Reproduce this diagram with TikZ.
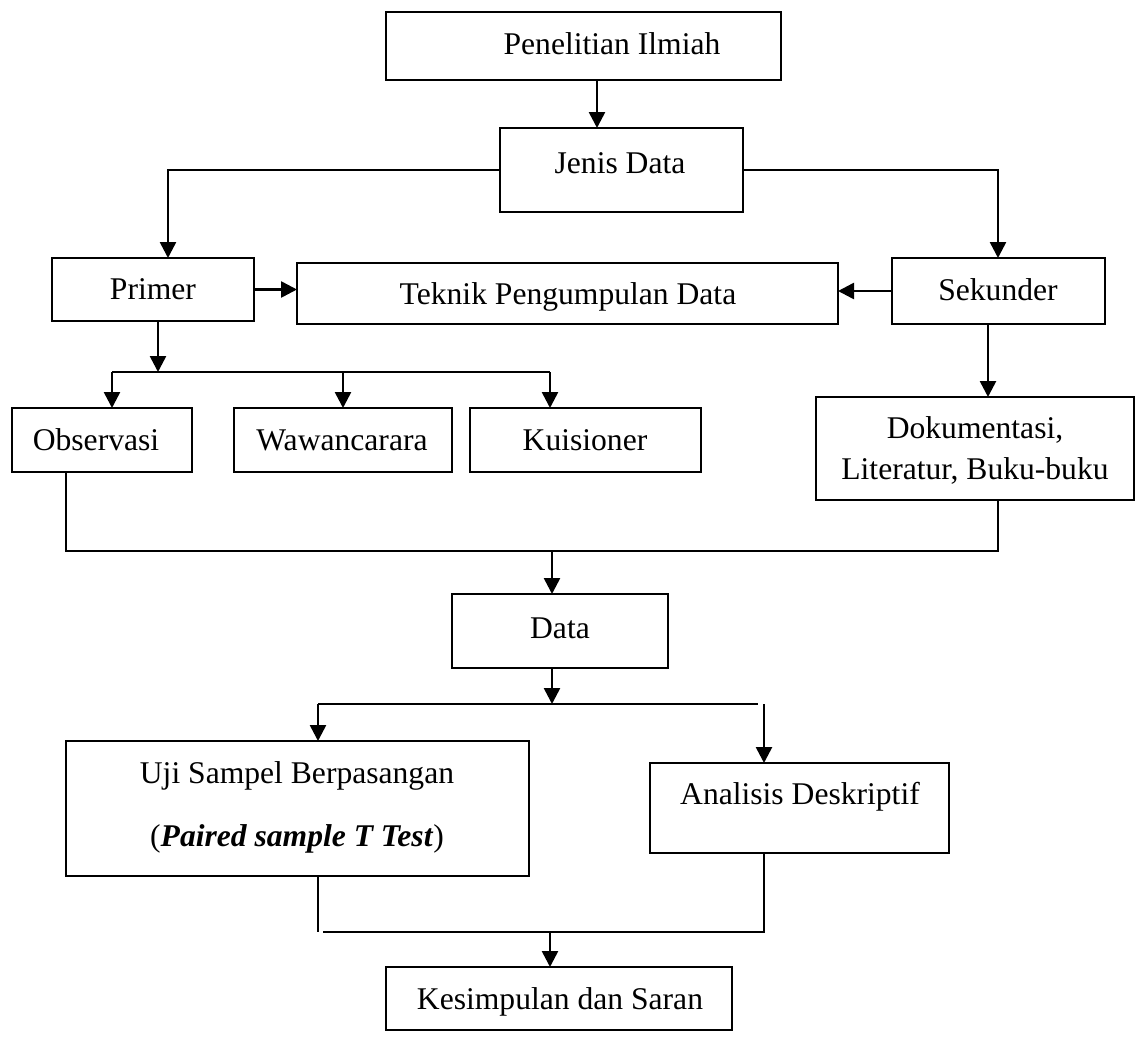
\documentclass[tikz,border=0pt]{standalone}
\usepackage{fontspec}
\setmainfont{Liberation Serif}
\usetikzlibrary{arrows.meta}
\begin{document}
\begin{tikzpicture}[x=1pt,y=-1pt,
  box/.style={draw, line width=2.4pt, inner sep=0pt, outer sep=0pt},
  txt/.style={anchor=base, inner sep=0pt, font=\fontsize{31.6}{38}\selectfont},
  conn/.style={line width=2.4pt},
  arr/.style={line width=2.6pt, -{Triangle[length=16pt,width=16pt]}}]
\useasboundingbox (0,0) rectangle (1137,1036);
% boxes: name, x1,y1,x2,y2
\newcommand\mkbox[5]{\node[box, minimum width={#4-#2}, minimum height={#5-#3}] (#1) at ({(#2+#4)/2},{(#3+#5)/2}) {};}
\mkbox{pen}{386}{12}{781}{80}
\mkbox{jenis}{500}{128}{743}{212}
\mkbox{primer}{52}{258}{254}{321}
\mkbox{teknik}{297}{263}{838}{324}
\mkbox{sekunder}{892}{258}{1105}{324}
\mkbox{obs}{12}{408}{192}{472}
\mkbox{waw}{234}{408}{452}{472}
\mkbox{kuis}{470}{408}{701}{472}
\mkbox{dok}{816}{397}{1134}{500}
\mkbox{data}{452}{594}{668}{668}
\mkbox{uji}{66}{741}{529}{876}
\mkbox{anal}{650}{763}{949}{853}
\mkbox{kes}{386}{967}{732}{1030}
% texts
\node[txt] (tpen) at (612,54) {Penelitian Ilmiah};
\node[txt] (tjenis) at (620,173) {Jenis Data};
\node[txt] (tprimer) at (153,299) {Primer};
\node[txt] (tteknik) at (568,304) {Teknik Pengumpulan Data};
\node[txt] (tsekunder) at (998,300) {Sekunder};
\node[txt] (tobs) at (96,450) {Observasi};
\node[txt] (twaw) at (342,450) {Wawancarara};
\node[txt] (tkuis) at (585,450) {Kuisioner};
\node[txt] (tdok1) at (975,438) {Dokumentasi,};
\node[txt] (tdok2) at (975,479) {Literatur, Buku-buku};
\node[txt] (tdata) at (560,638) {Data};
\node[txt] (tuji1) at (297,783) {Uji Sampel Berpasangan};
\node[txt] (tuji2) at (297,846) {(\textbf{\textit{Paired sample T Test}})};
\node[txt] (tanal) at (800,804) {Analisis Deskriptif};
\node[txt] (tkes) at (560,1009) {Kesimpulan dan Saran};
% junction coordinates
\coordinate (jl) at (168,170);
\coordinate (jr) at (998,170);
\coordinate (pj) at (158,372);
\coordinate (pl) at (112,372);
\coordinate (pr) at (550,372);
\coordinate (mob) at (66,551);
\coordinate (mdok) at (998,551);
\coordinate (mdata) at (552,551);
\coordinate (dj) at (552,704);
\coordinate (dl) at (318,704);
\coordinate (dr) at (758,704);
\coordinate (ar) at (764,704);
\coordinate (uj) at (318,932);
\coordinate (ul) at (323,932);
\coordinate (aj) at (764,932);
\coordinate (kj) at (550,932);
% connectors
\draw[arr] (pen.south -| 597,0) -- (jenis.north -| 597,0);
\draw[arr] (jenis.west) -- (jl) -- (primer.north -| jl);
\draw[arr] (jenis.east) -- (jr) -- (sekunder.north -| jr);
\draw[arr] (primer.east) -- (teknik.west |- primer.east);
\draw[arr] (sekunder.west) -- (teknik.east |- sekunder.west);
\draw[arr] (sekunder.south -| 988,0) -- (dok.north -| 988,0);
\draw[arr] (primer.south -| pj) -- (pj);
\draw[conn] (pl) -- (pr);
\draw[arr] (pl) -- (obs.north -| pl);
\draw[arr] (waw.north |- pl) -- (waw.north);
\draw[arr] (pr) -- (kuis.north -| pr);
\draw[conn] (obs.south -| mob) -- (mob) -- (mdok) -- (dok.south -| mdok);
\draw[arr] (mdata) -- (data.north -| mdata);
\draw[arr] (data.south -| dj) -- (dj);
\draw[conn] (dl) -- (dr);
\draw[arr] (dl) -- (uji.north -| dl);
\draw[arr] (ar) -- (anal.north -| ar);
\draw[conn] (uji.south -| uj) -- (uj);
\draw[conn] (ul) -- (aj) -- (anal.south -| aj);
\draw[arr] (kj) -- (kes.north -| kj);
\end{tikzpicture}
\end{document}
